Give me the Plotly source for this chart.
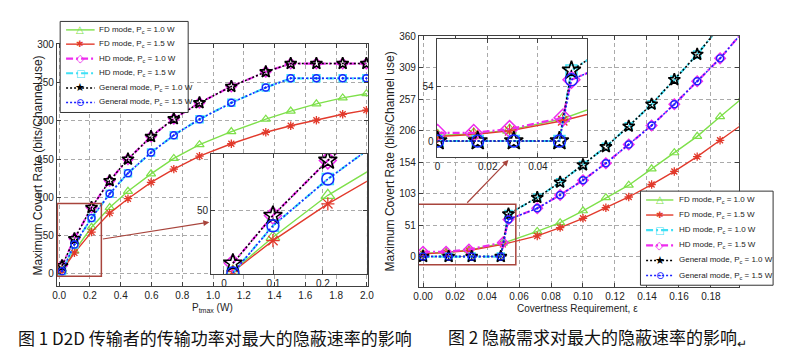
import plotly.graph_objects as go

# ---------------- data: Fig. 1 (left) ----------------
p_tmax = [0.018, 0.099, 0.21, 0.328, 0.447, 0.597, 0.745, 0.912, 1.119, 1.343, 1.505, 1.672, 1.843, 1.997]
fd_pc10_f1 = [5.0, 30.0, 61.0, 86.8, 108.0, 130.8, 151.0, 169.0, 186.0, 202.2, 212.8, 222.3, 230.0, 235.5]
fd_pc15_f1 = [4.5, 27.5, 54.7, 79.5, 98.3, 119.7, 137.0, 154.0, 170.1, 185.1, 193.6, 200.9, 208.6, 214.1]
hd_pc10_f1 = [10.7, 46.0, 86.8, 121.8, 150.0, 179.5, 202.7, 223.6, 244.9, 264.1, 274.9, 274.9, 274.9, 274.9]
hd_pc15_f1 = [3.5, 38.5, 73.0, 104.7, 131.7, 158.6, 181.3, 202.2, 223.6, 243.6, 255.6, 255.6, 255.6, 255.6]
gen_pc10_f1 = [10.7, 46.0, 86.8, 121.8, 150.0, 179.5, 202.7, 223.6, 244.9, 264.1, 274.9, 274.9, 274.9, 274.9]
gen_pc15_f1 = [3.5, 38.5, 73.0, 104.7, 131.7, 158.6, 181.3, 202.2, 223.6, 243.6, 255.6, 255.6, 255.6, 255.6]

x1_ticks = [0.0, 0.2, 0.4, 0.6, 0.8, 1.0, 1.2, 1.4, 1.6, 1.8, 2.0]
y1_ticks = [0, 50, 100, 150, 200, 250, 300]
x1_inset_ticks = [0, 0.1, 0.2]
x1_inset_labels = ["0", "0.1", "0.2"]
y1_inset_ticks = [50]

# ---------------- data: Fig. 2 (right) ----------------
eps_fd = [0.0, 0.0144, 0.0287, 0.0499, 0.0714, 0.0857, 0.1, 0.1143, 0.1286, 0.1429, 0.1571, 0.1714, 0.1857, 0.2]
fd_pc10_f2 = [5.5, 7.0, 10.7, 22.0, 41.3, 55.5, 75.0, 96.5, 116.8, 143.6, 169.9, 196.7, 228.8, 260.0]
fd_pc15_f2 = [4.5, 6.5, 10.0, 20.0, 33.8, 47.5, 62.7, 80.0, 97.5, 117.9, 139.3, 163.5, 190.2, 217.0]

eps_gen = [0.0, 0.016, 0.0304, 0.0486, 0.0534, 0.0714, 0.0857, 0.1, 0.1143, 0.1286, 0.1429, 0.1571, 0.1714, 0.1857, 0.2]
gen_pc10_f2 = [0.0, 0.0, 0.0, 0.0, 69.7, 96.5, 121.6, 150.0, 179.5, 213.3, 249.2, 289.4, 330.7, 377.0, 425.0]
gen_pc15_f2 = [0.0, 0.0, 0.0, 0.0, 60.6, 79.0, 100.8, 124.9, 152.7, 183.3, 214.4, 249.2, 286.7, 324.2, 368.0]
hd_pc10_f2 = [0.0, 0.0, 0.0, 0.0, 69.7, 96.5, 121.6, 150.0, 179.5, 213.3, 249.2, 289.4, 330.7, 377.0, 425.0]

eps_hd15 = [0.0, 0.0144, 0.0287, 0.0499, 0.0534, 0.0714, 0.0857, 0.1, 0.1143, 0.1286, 0.1429, 0.1571, 0.1714, 0.1857, 0.2]
hd_pc15_f2 = [8.0, 8.0, 11.8, 23.0, 60.6, 79.0, 100.8, 124.9, 152.7, 183.3, 214.4, 249.2, 286.7, 324.2, 368.0]

x2_ticks = [0.0, 0.02, 0.04, 0.06, 0.08, 0.10, 0.12, 0.14, 0.16, 0.18]
y2_ticks = [0, 360 / 7, 720 / 7, 1080 / 7, 1440 / 7, 1800 / 7, 2160 / 7, 360]
y2_labels = ["0", "51", "103", "154", "206", "257", "309", "360"]
x2_inset_ticks = [0, 0.02, 0.04]
x2_inset_labels = ["0", "0.02", "0.04"]
y2_inset_ticks = [0, 54]

names_f1 = ["FD mode, P<sub>c</sub> = 1.0 W", "FD mode, P<sub>c</sub> = 1.5 W",
            "HD mode, P<sub>c</sub> = 1.0 W", "HD mode, P<sub>c</sub> = 1.5 W",
            "General mode, P<sub>c</sub> = 1.0 W", "General mode, P<sub>c</sub> = 1.5 W"]
names_f2 = names_f1

# ---------------- styles ----------------
W, H = 786, 357
def fx(x):
    return x / W
def fy(y):
    return 1 - y / H

GREEN = "#7ee04a"
RED = "#e23a2c"
MAG = "#ee2cee"
CYAN = "#3fe0f5"
BLACK = "#000000"
BLUE = "#1a22ff"
FRAME = "#404040"
GRID = "#aaaaaa"
BOXC = "#a8443c"
DOT = "2px,2px"
DASHDOT = "7px,3px,2px,3px"

ST = {
    "fd10": dict(color=GREEN, dash="solid", lw=1.4, sym="triangle-up-open", s=8, si=12, mw=1.2, glyph="△", gs=10),
    "fd15": dict(color=RED, dash="solid", lw=1.4, sym="asterisk-open", s=7, si=11, mw=1.3, glyph="✱", gs=9),
    "mag": dict(color=MAG, dash=DASHDOT, lw=2.2, sym="diamond-open", s=8, si=13, mw=1.5, glyph="◇", gs=11),
    "cyan": dict(color=CYAN, dash=DASHDOT, lw=2.2, sym="square-open", s=7, si=11, mw=1.5, glyph="□", gs=10),
    "gen10": dict(color=BLACK, dash=DOT, lw=1.5, sym="star-open", s=9, si=14, mw=1.6, glyph="★", gs=11),
    "gen15": dict(color=BLUE, dash=DOT, lw=1.5, sym="circle-open-dot", s=7, si=12, mw=1.4, glyph="⊙", gs=10),
}

fig = go.Figure()

def add_series(x, y, key, name, xa, ya, inset=False):
    st = ST[key]
    fig.add_trace(go.Scatter(
        x=x, y=y, name=name, mode="lines+markers", xaxis=xa, yaxis=ya, showlegend=False,
        line=dict(color=st["color"], width=st["lw"], dash=st["dash"]),
        marker=dict(symbol=st["sym"].replace("-dot", "") if inset else st["sym"],
                    size=st["si"] if inset else st["s"], color=st["color"],
                    line=dict(color=st["color"], width=st["mw"])),
    ))

series_f1 = [
    (p_tmax, fd_pc10_f1, "fd10", names_f1[0]),
    (p_tmax, fd_pc15_f1, "fd15", names_f1[1]),
    (p_tmax, hd_pc10_f1, "mag", names_f1[2]),
    (p_tmax, hd_pc15_f1, "cyan", names_f1[3]),
    (p_tmax, gen_pc10_f1, "gen10", names_f1[4]),
    (p_tmax, gen_pc15_f1, "gen15", names_f1[5]),
]
series_f2 = [
    (eps_fd, fd_pc10_f2, "fd10", names_f2[0]),
    (eps_fd, fd_pc15_f2, "fd15", names_f2[1]),
    (eps_gen, hd_pc10_f2, "cyan", names_f2[2]),
    (eps_hd15, hd_pc15_f2, "mag", names_f2[3]),
    (eps_gen, gen_pc10_f2, "gen10", names_f2[4]),
    (eps_gen, gen_pc15_f2, "gen15", names_f2[5]),
]
for x, y, k, n in series_f1:
    add_series(x, y, k, n, "x", "y")
for x, y, k, n in series_f1:
    add_series(x, y, k, n, "x2", "y2", inset=True)
for x, y, k, n in series_f2:
    add_series(x, y, k, n, "x3", "y3")
for x, y, k, n in series_f2:
    add_series(x, y, k, n, "x4", "y4", inset=True)

axis_common = dict(showline=True, mirror="ticks", linecolor=FRAME, linewidth=1,
                   ticks="inside", ticklen=4, tickcolor=FRAME,
                   showgrid=True, gridcolor=GRID, griddash="4px,3px", gridwidth=1,
                   zeroline=False, tickfont=dict(size=10, color="#222"))

fig.update_layout(
    width=W, height=H, margin=dict(l=0, r=0, t=0, b=0),
    paper_bgcolor="white", plot_bgcolor="white", showlegend=False,
    font=dict(family="Liberation Sans, Arial, sans-serif", size=10, color="#222"),
    xaxis=dict(domain=[fx(51.7), fx(368)], anchor="y", range=[-0.015, 2.01],
               tickvals=x1_ticks, tickformat=".1f", **axis_common),
    yaxis=dict(domain=[fy(285), fy(39)], anchor="x", range=[-16, 300],
               tickvals=y1_ticks, **axis_common),
    xaxis2=dict(domain=[fx(208.3), fx(366.5)], anchor="y2", range=[-0.026, 0.289],
                tickvals=x1_inset_ticks, ticktext=x1_inset_labels, **axis_common),
    yaxis2=dict(domain=[fy(272.7), fy(150.3)], anchor="x2", range=[2.7, 91.7],
                tickvals=y1_inset_ticks, **axis_common),
    xaxis3=dict(domain=[fx(419.3), fx(744.3)], anchor="y3", range=[-0.0026, 0.1975],
                tickvals=x2_ticks, tickformat=".2f", **axis_common),
    yaxis3=dict(domain=[fy(286), fy(31)], anchor="x3", range=[-50, 360],
                tickvals=y2_ticks, ticktext=y2_labels, **axis_common),
    xaxis4=dict(domain=[fx(437.3), fx(590)], anchor="y4", range=[-0.0004, 0.0596],
                tickvals=x2_inset_ticks, ticktext=x2_inset_labels, **axis_common),
    yaxis4=dict(domain=[fy(154), fy(33.3)], anchor="x4", range=[-16.2, 101],
                tickvals=y2_inset_ticks, **axis_common),
)

# zoom boxes and arrows
fig.add_shape(type="rect", xref="x", yref="y", x0=-0.012, x1=0.274, y0=-3, y1=92,
              line=dict(color=BOXC, width=1.5), layer="above")
fig.add_annotation(xref="x", yref="y", axref="x", ayref="y", x=0.976, y=67.6, ax=0.274, ay=45.4,
                   text="", showarrow=True, arrowhead=2, arrowsize=1, arrowwidth=1.2, arrowcolor=BOXC)
fig.add_shape(type="rect", xref="x3", yref="y3", x0=-0.003, x1=0.058, y0=-13.3, y1=85.7,
              line=dict(color=BOXC, width=1.5), layer="above")
fig.add_annotation(xref="x3", yref="y3", axref="x3", ayref="y3", x=0.0534, y=158, ax=0.0267, ay=85.7,
                   text="", showarrow=True, arrowhead=2, arrowsize=1, arrowwidth=1.2, arrowcolor=BOXC)

# axis titles
title_font = dict(family="Liberation Sans, Arial, sans-serif", size=12, color="#222")
fig.add_annotation(xref="paper", yref="paper", x=fx(32.7), y=fy(162), text="Maximum Covert Rate (bits/Channel use)",
                   textangle=-90, showarrow=False, font=title_font, xanchor="center", yanchor="middle")
fig.add_annotation(xref="paper", yref="paper", x=fx(390), y=fy(158), text="Maximum Covert Rate (bits/Channel use)",
                   textangle=-90, showarrow=False, font=title_font, xanchor="center", yanchor="middle")
fig.add_annotation(xref="paper", yref="paper", x=fx(210), y=fy(307), text="P<sub>tmax</sub> (W)",
                   showarrow=False, font=dict(size=10, color="#222"), xanchor="center", yanchor="middle")
fig.add_annotation(xref="paper", yref="paper", x=fx(580), y=fy(308), text="Covertness Requirement, ε",
                   showarrow=False, font=dict(size=10, color="#222"), xanchor="center", yanchor="middle")

# legends (drawn as boxes over the plot, matching the original layout)
def draw_legend(box, rows_y, xl0, xl1, xt, entries):
    fig.add_shape(type="rect", xref="paper", yref="paper", x0=fx(box[0]), x1=fx(box[2]),
                  y0=fy(box[3]), y1=fy(box[1]), fillcolor="white",
                  line=dict(color="#333", width=1), layer="above")
    for yy, (label, key) in zip(rows_y, entries):
        st = ST[key]
        fig.add_shape(type="line", xref="paper", yref="paper", x0=fx(xl0), x1=fx(xl1), y0=fy(yy), y1=fy(yy),
                      line=dict(color=st["color"], width=st["lw"], dash=st["dash"]), layer="above")
        fig.add_annotation(xref="paper", yref="paper", x=fx((xl0 + xl1) / 2), y=fy(yy), text=st["glyph"],
                           showarrow=False, xanchor="center", yanchor="middle",
                           font=dict(family="DejaVu Sans", size=st["gs"], color=st["color"]))
        fig.add_annotation(xref="paper", yref="paper", x=fx(xt), y=fy(yy), text=label,
                           showarrow=False, xanchor="left", yanchor="middle",
                           font=dict(size=8, color="#222"))

draw_legend((55, 15.7, 185, 108.3), [24.3, 38.8, 53.6, 68.4, 83.3, 98.1], 61, 90, 92.7,
            [(n, k) for (_, _, k, n) in series_f1])
draw_legend((644.3, 188.3, 779, 284), [197.3, 212.6, 228.0, 243.4, 258.8, 274.2], 650, 677.7, 681.7,
            [(n, k) for (_, _, k, n) in series_f2])

# captions
cap_font = dict(family="Noto Sans CJK SC", size=17, color="#111")
fig.add_annotation(xref="paper", yref="paper", x=fx(10), y=fy(337), text="图 1 D2D 传输者的传输功率对最大的隐蔽速率的影响",
                   showarrow=False, xanchor="left", yanchor="middle", font=cap_font)
fig.add_annotation(xref="paper", yref="paper", x=fx(446.7), y=fy(337), text="图 2 隐蔽需求对最大的隐蔽速率的影响<sub>↵</sub>",
                   showarrow=False, xanchor="left", yanchor="middle", font=cap_font)

fig.write_html("out.html", config={"displayModeBar": False},
               post_script="document.body.style.margin='0';document.body.style.overflow='hidden';")
